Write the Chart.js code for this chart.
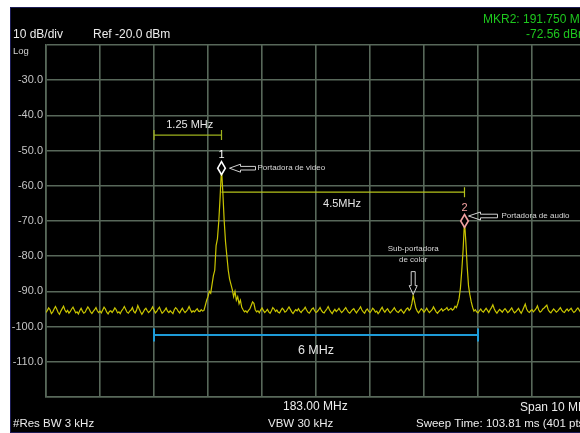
<!DOCTYPE html>
<html>
<head>
<meta charset="utf-8">
<script src="https://cdn.jsdelivr.net/npm/chart.js@4/dist/chart.umd.min.js"></script>
<style>
  html, body { margin: 0; padding: 0; background: #fff; overflow: hidden; }
  #wrap { position: absolute; left: 0; top: 0; width: 600px; height: 433px; }
</style>
</head>
<body>
<div id="wrap"><canvas id="sa" width="600" height="433"></canvas></div>
<script>
// Barrido del analizador: 178 a 188 MHz, 401 puntos (uno cada 0.025 MHz)
var freqStart = 178;
var freqStep = 0.025;
var levels = [
  -96.0, -95.4, -94.7, -95.2, -96.3, -95.8, -95.0, -94.3, -95.1, -96.0, -96.5, -95.6, -94.9, -94.2, -95.3, -95.9, -95.4, -96.2, -95.7, -95.0,
  -94.5, -95.3, -96.1, -95.8, -96.4, -95.5, -94.8, -95.6, -96.2, -95.9, -95.1, -94.4, -95.0, -95.8, -96.3, -95.7, -95.2, -94.6, -95.5, -96.0,
  -95.6, -96.1, -95.3, -94.5, -95.0, -95.9, -96.4, -95.7, -95.5, -96.0, -95.4, -94.7, -95.2, -96.1, -95.8, -96.3, -95.5, -95.0, -94.3, -95.1,
  -95.9, -96.2, -95.6, -95.3, -94.6, -95.7, -96.1, -95.4, -94.0, -94.9, -95.8, -96.5, -95.9, -95.2, -94.8, -95.5, -96.0, -95.6, -95.1, -94.4,
  -95.3, -96.1, -95.7, -95.0, -94.5, -95.4, -96.2, -95.8, -95.3, -94.7, -95.6, -96.0, -95.5, -95.9, -96.3, -95.2, -94.6, -95.0, -95.7, -96.1,
  -95.4, -94.8, -95.5, -96.0, -95.6, -95.1, -94.3, -95.2, -95.9, -95.5, -95.8, -95.3, -94.9, -95.6, -95.7, -95.2, -95.6, -95.4, -94.0, -92.5,
  -91.5, -90.0, -90.5, -88.0, -85.5, -84.0, -77.0, -75.0, -70.0, -63.0, -55.0, -62.0, -70.0, -76.0, -80.0, -84.0, -86.5, -88.0, -89.5, -91.5,
  -90.0, -92.5, -91.5, -93.5, -92.5, -94.5, -95.2, -95.8, -95.5, -96.0, -95.4, -95.0, -94.0, -93.0, -93.4, -95.2, -95.8, -95.5, -96.1, -95.3,
  -94.7, -95.4, -96.0, -95.6, -95.1, -95.8, -96.2, -95.5, -94.6, -95.0, -95.7, -95.3, -95.9, -96.1, -95.4, -94.8, -95.2, -95.9, -95.6, -95.0,
  -94.4, -95.1, -95.8, -96.3, -95.7, -95.2, -95.5, -94.9, -95.6, -96.0, -95.4, -95.1, -94.5, -95.3, -95.9, -96.2, -95.6, -95.0, -94.7, -95.5,
  -96.0, -95.7, -95.2, -94.6, -95.4, -95.9, -96.1, -95.5, -95.0, -94.3, -95.2, -95.8, -96.3, -95.6, -95.1, -95.7, -95.3, -94.8, -95.5, -96.0,
  -95.6, -95.1, -94.6, -95.3, -95.9, -96.2, -95.7, -95.2, -94.9, -95.6, -96.1, -95.5, -95.0, -94.4, -95.3, -95.8, -96.2, -95.4, -95.0, -95.6,
  -96.0, -95.5, -94.8, -95.2, -95.9, -95.6, -96.3, -95.8, -95.1, -94.5, -95.4, -95.9, -95.3, -94.9, -95.6, -96.1, -95.7, -95.2, -94.6, -95.3,
  -95.8, -96.0, -95.5, -95.1, -95.7, -96.2, -95.6, -95.0, -94.7, -95.4, -95.0, -93.5, -91.2, -93.0, -94.8, -95.6, -96.1, -95.5, -94.9, -95.3,
  -95.9, -95.4, -94.8, -95.5, -96.0, -95.6, -95.2, -94.4, -95.1, -95.8, -96.2, -95.7, -95.3, -94.9, -95.6, -95.2, -95.0, -94.6, -95.4, -95.1,
  -94.8, -95.3, -95.0, -94.2, -94.6, -93.5, -92.0, -89.0, -84.0, -78.0, -70.0, -76.0, -83.0, -88.5, -91.0, -93.0, -94.5, -95.6, -95.2, -95.8,
  -96.1, -95.5, -95.0, -95.6, -95.9, -95.3, -94.8, -95.4, -96.0, -95.2, -94.6, -93.8, -94.9, -95.7, -96.2, -95.6, -95.1, -95.5, -95.9, -95.3,
  -94.9, -95.4, -96.0, -95.7, -95.2, -94.7, -95.5, -96.1, -95.8, -95.3, -94.8, -95.6, -96.2, -95.4, -94.5, -93.6, -95.0, -95.7, -96.0, -95.5,
  -95.2, -95.8, -95.4, -94.9, -94.1, -95.3, -95.9, -95.6, -95.0, -94.7, -94.3, -93.9, -95.2, -95.8, -96.1, -95.5, -95.0, -95.4, -95.9, -95.6,
  -95.1, -94.6, -95.3, -95.8, -96.0, -95.4, -95.0, -95.6, -95.2, -94.8, -95.5, -96.0, -95.7, -95.1, -94.7, -95.3, -95.9, -95.5, -95.0, -95.4,
  -95.7
];

// Eje vertical: Ref -20 dBm, 10 dB/div
var refLevel = -20;
var bottomLevel = -120;
var dbPerDiv = 10;
var freqMin = 178;
var freqMax = 188;

// Marcadores (frecuencia en MHz, nivel en dBm)
var markerFreqs = [181.25, 185.75];
var markerLevels = [-55, -70];
var markerNames = ['1', '2'];
var subcarrierFreq = 184.80;
var subcarrierLevel = -91.2;

// Cotas
var spanVideo = [180, 181.25];   // 1.25 MHz
var spanAudio = [181.25, 185.75]; // 4.5 MHz
var spanChannel = [180, 186];     // 6 MHz
var levelVideoCota = -45.6;
var levelAudioCota = -61.8;
var levelChannelCota = -102.4;

var points = levels.map(function (v, i) {
  return { x: freqStart + i * freqStep, y: v };
});

var FONT = "'Liberation Sans', Arial, sans-serif";
var GRID = '#58685a';

function diamond(ctx, x, y, color) {
  ctx.beginPath();
  ctx.moveTo(x, y - 6.5);
  ctx.lineTo(x + 3.8, y);
  ctx.lineTo(x, y + 6.5);
  ctx.lineTo(x - 3.8, y);
  ctx.closePath();
  ctx.fillStyle = '#000';
  ctx.fill();
  ctx.lineWidth = 1.6;
  ctx.strokeStyle = color;
  ctx.stroke();
}

function leftArrow(ctx, tipX, endX, y, head) {
  ctx.beginPath();
  ctx.moveTo(tipX, y);
  ctx.lineTo(tipX + head, y - 4);
  ctx.lineTo(tipX + head, y - 1.8);
  ctx.lineTo(endX, y - 1.8);
  ctx.lineTo(endX, y + 1.8);
  ctx.lineTo(tipX + head, y + 1.8);
  ctx.lineTo(tipX + head, y + 4);
  ctx.closePath();
  ctx.lineWidth = 1;
  ctx.strokeStyle = '#d0d0d0';
  ctx.stroke();
}

function downArrow(ctx, x, topY, tipY) {
  ctx.beginPath();
  ctx.moveTo(x, tipY);
  ctx.lineTo(x - 4, tipY - 9);
  ctx.lineTo(x - 2, tipY - 9);
  ctx.lineTo(x - 2, topY);
  ctx.lineTo(x + 2, topY);
  ctx.lineTo(x + 2, tipY - 9);
  ctx.lineTo(x + 4, tipY - 9);
  ctx.closePath();
  ctx.lineWidth = 1;
  ctx.strokeStyle = '#d0d0d0';
  ctx.stroke();
}

function cota(ctx, x1, x2, y, color, width, cap) {
  ctx.strokeStyle = color;
  ctx.lineWidth = width;
  ctx.beginPath();
  ctx.moveTo(x1, y); ctx.lineTo(x2, y);
  ctx.moveTo(x1, y - cap); ctx.lineTo(x1, y + cap);
  ctx.moveTo(x2, y - cap); ctx.lineTo(x2, y + cap);
  ctx.stroke();
}

function txt(ctx, s, x, y, color, size, align) {
  ctx.font = size + 'px ' + FONT;
  ctx.fillStyle = color;
  ctx.textAlign = align || 'left';
  ctx.textBaseline = 'middle';
  ctx.fillText(s, x, y);
}

// Fondo negro del analizador
var panelPlugin = {
  id: 'panel',
  beforeDraw: function (chart) {
    var ctx = chart.ctx;
    ctx.save();
    ctx.fillStyle = '#ffffff';
    ctx.fillRect(0, 0, chart.width, chart.height);
    ctx.fillStyle = '#000000';
    ctx.fillRect(10, 7, chart.width - 10, chart.height - 7);
    ctx.strokeStyle = '#1c1c55';
    ctx.lineWidth = 1;
    ctx.strokeRect(10.5, 7.5, chart.width, chart.height - 8);
    ctx.restore();
  }
};

// Marcadores, flechas y cotas
var notesPlugin = {
  id: 'notes',
  afterDatasetsDraw: function (chart) {
    var ctx = chart.ctx;
    var xs = chart.scales.x, ys = chart.scales.y;
    ctx.save();

    // 1.25 MHz
    var a = xs.getPixelForValue(spanVideo[0]), b = xs.getPixelForValue(spanVideo[1]);
    var yy = ys.getPixelForValue(levelVideoCota);
    cota(ctx, a, b, yy, '#9db11c', 1.2, 5);
    txt(ctx, '1.25 MHz', (a + b) / 2 + 2, yy - 10, '#e6e6e6', 11, 'center');

    // 4.5 MHz
    a = xs.getPixelForValue(spanAudio[0]); b = xs.getPixelForValue(spanAudio[1]);
    yy = ys.getPixelForValue(levelAudioCota);
    ctx.strokeStyle = '#b4c21a';
    ctx.lineWidth = 1.2;
    ctx.beginPath();
    ctx.moveTo(a, yy); ctx.lineTo(b, yy);
    ctx.moveTo(b, yy - 5); ctx.lineTo(b, yy + 5);
    ctx.stroke();
    txt(ctx, '4.5MHz', (a + b) / 2 - 1, yy + 12, '#e6e6e6', 11, 'center');

    // 6 MHz
    a = xs.getPixelForValue(spanChannel[0]); b = xs.getPixelForValue(spanChannel[1]);
    yy = ys.getPixelForValue(levelChannelCota);
    cota(ctx, a, b, yy, '#1e9bd7', 2, 6.5);
    txt(ctx, '6 MHz', (a + b) / 2, yy + 15, '#e6e6e6', 12.5, 'center');

    // Marcador 1
    var mx = xs.getPixelForValue(markerFreqs[0]), my = ys.getPixelForValue(markerLevels[0]);
    diamond(ctx, mx, my, '#ffffff');
    txt(ctx, markerNames[0], mx, my - 13, '#ffffff', 11, 'center');
    leftArrow(ctx, mx + 8, mx + 34, my, 11);
    txt(ctx, 'Portadora de video', mx + 36, my, '#d8d8d8', 8, 'left');

    // Marcador 2
    mx = xs.getPixelForValue(markerFreqs[1]); my = ys.getPixelForValue(markerLevels[1]);
    diamond(ctx, mx, my, '#f2a0a0');
    txt(ctx, markerNames[1], mx, my - 13, '#f2a0a0', 11, 'center');
    leftArrow(ctx, mx + 4, mx + 33, my - 5, 12);
    txt(ctx, 'Portadora de audio', mx + 37, my - 5, '#d8d8d8', 8, 'left');

    // Sub-portadora de color
    var sx = xs.getPixelForValue(subcarrierFreq), sy = ys.getPixelForValue(subcarrierLevel);
    txt(ctx, 'Sub-portadora', sx, sy - 47, '#d8d8d8', 8, 'center');
    txt(ctx, 'de color', sx, sy - 36, '#d8d8d8', 8, 'center');
    downArrow(ctx, sx, sy - 24, sy - 1);

    ctx.restore();
  },
  afterDraw: function (chart) {
    var ctx = chart.ctx;
    ctx.save();
    txt(ctx, '10 dB/div', 13, 35, '#ececec', 12);
    txt(ctx, 'Ref -20.0 dBm', 93, 35, '#ececec', 12);
    txt(ctx, 'Log', 13, 51, '#d0d0d0', 9.5);
    txt(ctx, 'MKR2: 191.750 MHz', 483, 20, '#1ec81e', 12);
    txt(ctx, '-72.56 dBm', 526, 35, '#1ec81e', 12);
    txt(ctx, '183.00 MHz', 283, 407, '#ececec', 12);
    txt(ctx, 'Span 10 MHz', 520, 408, '#ececec', 12);
    txt(ctx, '#Res BW 3 kHz', 13, 424, '#ececec', 11.5);
    txt(ctx, 'VBW 30 kHz', 268, 424, '#ececec', 11.5);
    txt(ctx, 'Sweep Time: 103.81 ms (401 pts)', 416, 424, '#ececec', 11.5);
    ctx.restore();
  }
};

new Chart(document.getElementById('sa'), {
  type: 'line',
  data: {
    datasets: [{
      data: points,
      borderColor: '#c9c500',
      borderWidth: 1.2,
      pointRadius: 0,
      tension: 0,
      fill: false
    }]
  },
  options: {
    responsive: false,
    animation: false,
    parsing: false,
    layout: { padding: { left: 0, top: 45, right: 14, bottom: 36 } },
    plugins: { legend: { display: false }, tooltip: { enabled: false } },
    scales: {
      x: {
        type: 'linear',
        min: freqMin,
        max: freqMax,
        ticks: { display: false, stepSize: 1 },
        grid: { color: GRID, lineWidth: 1.6, drawTicks: false },
        border: { color: GRID, width: 1.6 },
        afterFit: function (s) { s.height = 0; }
      },
      y: {
        min: bottomLevel,
        max: refLevel,
        ticks: {
          stepSize: dbPerDiv,
          padding: 3,
          color: '#c4c4c4',
          font: { family: FONT, size: 11 },
          callback: function (v) {
            if (v === refLevel || v === bottomLevel) return '';
            return v.toFixed(1);
          }
        },
        grid: { color: GRID, lineWidth: 1.6, drawTicks: false },
        border: { color: GRID, width: 1.6 },
        afterFit: function (s) { s.width = 46; }
      }
    }
  },
  plugins: [panelPlugin, notesPlugin]
});
</script>
</body>
</html>
